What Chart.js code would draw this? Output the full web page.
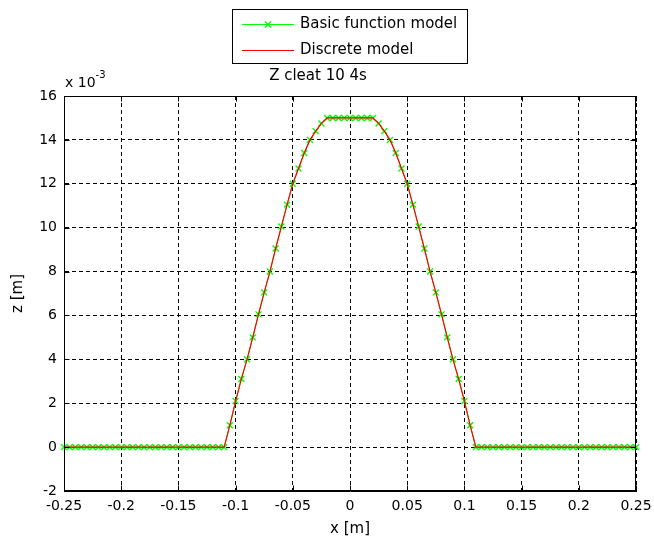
<!DOCTYPE html>
<html>
<head>
<meta charset="utf-8">
<script src="https://cdn.jsdelivr.net/npm/chart.js@4/dist/chart.umd.min.js"></script>
<style>
  html, body { margin: 0; padding: 0; background: #fff; }
  #wrap { width: 654px; height: 541px; }
</style>
</head>
<body>
<div id="wrap"><canvas id="cleatChart" width="654" height="541"></canvas></div>
<script>
// Profile data: x in metres, z in units of 10^-3 m
const xVals = [
  -0.25, -0.245, -0.24, -0.235, -0.23, -0.225, -0.22, -0.215, -0.21, -0.205,
  -0.2, -0.195, -0.19, -0.185, -0.18, -0.175, -0.17, -0.165, -0.16, -0.155,
  -0.15, -0.145, -0.14, -0.135, -0.13, -0.125, -0.12, -0.115, -0.11, -0.105,
  -0.1, -0.095, -0.09, -0.085, -0.08, -0.075, -0.07, -0.065, -0.06, -0.055,
  -0.05, -0.045, -0.04, -0.035, -0.03, -0.025, -0.02, -0.015, -0.01, -0.005,
  0,
  0.005, 0.01, 0.015, 0.02, 0.025, 0.03, 0.035, 0.04, 0.045, 0.05,
  0.055, 0.06, 0.065, 0.07, 0.075, 0.08, 0.085, 0.09, 0.095, 0.1,
  0.105, 0.11, 0.115, 0.12, 0.125, 0.13, 0.135, 0.14, 0.145, 0.15,
  0.155, 0.16, 0.165, 0.17, 0.175, 0.18, 0.185, 0.19, 0.195, 0.2,
  0.205, 0.21, 0.215, 0.22, 0.225, 0.23, 0.235, 0.24, 0.245, 0.25
];

const zBasic = [
  0, 0, 0, 0, 0, 0, 0, 0, 0, 0,
  0, 0, 0, 0, 0, 0, 0, 0, 0, 0,
  0, 0, 0, 0, 0, 0, 0, 0, 0, 1.0,
  2.1, 3.1, 4.0, 5.0, 6.05, 7.05, 8.0, 9.05, 10.05, 11.05,
  12.0, 12.7, 13.4, 14.0, 14.4, 14.75, 15, 15, 15, 15,
  15,
  15, 15, 15, 15, 14.75, 14.4, 14.0, 13.4, 12.7, 12.0,
  11.05, 10.05, 9.05, 8.0, 7.05, 6.05, 5.0, 4.0, 3.1, 2.1,
  1.0, 0, 0, 0, 0, 0, 0, 0, 0, 0,
  0, 0, 0, 0, 0, 0, 0, 0, 0, 0,
  0, 0, 0, 0, 0, 0, 0, 0, 0, 0
];

const zDiscrete = [
  0, 0, 0, 0, 0, 0, 0, 0, 0, 0,
  0, 0, 0, 0, 0, 0, 0, 0, 0, 0,
  0, 0, 0, 0, 0, 0, 0, 0, 0, 1.0,
  2.1, 3.1, 4.0, 5.0, 6.05, 7.05, 8.0, 9.05, 10.05, 11.05,
  12.0, 12.7, 13.4, 14.0, 14.4, 14.75, 15, 15, 15, 15,
  15,
  15, 15, 15, 15, 14.75, 14.4, 14.0, 13.4, 12.7, 12.0,
  11.05, 10.05, 9.05, 8.0, 7.05, 6.05, 5.0, 4.0, 3.1, 2.1,
  1.0, 0, 0, 0, 0, 0, 0, 0, 0, 0,
  0, 0, 0, 0, 0, 0, 0, 0, 0, 0,
  0, 0, 0, 0, 0, 0, 0, 0, 0, 0
];

const seriesLabels = ["Basic function model", "Discrete model"];
const chartTitle = "Z cleat 10 4s";
const xTickLabels = [-0.25, -0.2, -0.15, -0.1, -0.05, 0, 0.05, 0.1, 0.15, 0.2, 0.25];
const yTickLabels = [-2, 0, 2, 4, 6, 8, 10, 12, 14, 16];

const FONT = "'DejaVu Sans', sans-serif";
const GREEN = "#00ff00";
const RED = "#ff0000";

// box, inward ticks, legend and exponent label, matlab style
const matlabAxes = {
    id: "matlabAxes",
    afterDraw(chart) {
        const ctx = chart.ctx;
        const area = chart.chartArea;
        const xs = chart.scales.x;
        const ys = chart.scales.y;
        ctx.save();
        ctx.strokeStyle = "#000";
        ctx.lineWidth = 1;
        ctx.setLineDash([]);
        const L = Math.round(area.left) + 0.5, R = Math.round(area.right) - 0.5;
        const T = Math.round(area.top) + 0.5, B = Math.round(area.bottom) - 0.5;
        ctx.strokeRect(L, T, R - L, B - T);

        ctx.beginPath();
        xTickLabels.forEach(v => {
            const px = Math.round(xs.getPixelForValue(v)) + 0.5;
            ctx.moveTo(px, B); ctx.lineTo(px, B - 5);
            ctx.moveTo(px, T); ctx.lineTo(px, T + 5);
        });
        yTickLabels.forEach(v => {
            const py = Math.round(ys.getPixelForValue(v)) + 0.5;
            ctx.moveTo(L, py); ctx.lineTo(L + 5, py);
            ctx.moveTo(R, py); ctx.lineTo(R - 5, py);
        });
        ctx.stroke();

        // exponent
        ctx.fillStyle = "#000";
        ctx.textBaseline = "alphabetic";
        ctx.textAlign = "left";
        ctx.font = "14px " + FONT;
        ctx.fillText("x 10", 65, 87);
        const w = ctx.measureText("x 10").width;
        ctx.font = "10px " + FONT;
        ctx.fillText("-3", 65 + w, 78);

        // legend box
        ctx.fillStyle = "#fff";
        ctx.fillRect(232.5, 9.5, 235, 54);
        ctx.strokeRect(232.5, 9.5, 235, 54);
        const rows = [24, 50];
        chart.data.datasets.forEach((ds, i) => {
            const y = rows[i] + 0.5;
            ctx.strokeStyle = ds.borderColor;
            ctx.lineWidth = 1;
            ctx.beginPath();
            ctx.moveTo(242, y); ctx.lineTo(294, y);
            ctx.stroke();
            if (ds.pointRadius > 0) {
                ctx.lineWidth = 1.3;
                ctx.beginPath();
                ctx.moveTo(265, y - 3); ctx.lineTo(271, y + 3);
                ctx.moveTo(265, y + 3); ctx.lineTo(271, y - 3);
                ctx.stroke();
            }
            ctx.fillStyle = "#000";
            ctx.font = "15px " + FONT;
            ctx.textBaseline = "middle";
            ctx.fillText(ds.label, 300, rows[i]);
        });
        ctx.restore();
    }
};

const ctx = document.getElementById("cleatChart").getContext("2d");
new Chart(ctx, {
    type: "line",
    data: {
        datasets: [{
            label: seriesLabels[0],
            data: xVals.map((x, i) => ({ x: x, y: zBasic[i] })),
            borderColor: GREEN,
            borderWidth: 1,
            pointStyle: "crossRot",
            pointRadius: 4.2,
            pointBorderColor: GREEN,
            pointBorderWidth: 1.4,
            tension: 0,
            clip: false,
            order: 2
        }, {
            label: seriesLabels[1],
            data: xVals.map((x, i) => ({ x: x, y: zDiscrete[i] })),
            borderColor: RED,
            borderWidth: 1.2,
            pointRadius: 0,
            tension: 0,
            clip: false,
            order: 1
        }]
    },
    options: {
        responsive: false,
        animation: false,
        layout: { padding: { left: 0, right: 18, top: 4, bottom: 0 } },
        plugins: {
            legend: { display: false },
            tooltip: { enabled: false },
            title: {
                display: true,
                text: chartTitle,
                color: "#000",
                font: { family: FONT, size: 15, weight: "normal" },
                padding: { top: 63, bottom: 11 }
            }
        },
        scales: {
            x: {
                type: "linear",
                min: -0.25,
                max: 0.25,
                afterFit(scale) {
                    scale.height = 50;
                    scale.paddingLeft = 0;
                    scale.paddingRight = 0;
                },
                afterBuildTicks(scale) { scale.ticks = xTickLabels.map(v => ({ value: v })); },
                ticks: {
                    color: "#000",
                    font: { family: FONT, size: 14 },
                    padding: 7,
                    maxRotation: 0,
                    callback: v => String(parseFloat(v.toFixed(2)))
                },
                grid: { color: "#000", lineWidth: 1, drawTicks: false },
                border: { display: true, color: "#000", dash: [4, 3] },
                title: {
                    display: true,
                    text: "x [m]",
                    color: "#000",
                    font: { family: FONT, size: 15 },
                    padding: { top: 0, bottom: 3 }
                }
            },
            y: {
                min: -2,
                max: 16,
                afterFit(scale) {
                    scale.width = 64;
                    scale.paddingTop = 0;
                    scale.paddingBottom = 0;
                },
                afterBuildTicks(scale) { scale.ticks = yTickLabels.map(v => ({ value: v })); },
                ticks: {
                    color: "#000",
                    font: { family: FONT, size: 14 },
                    padding: 7,
                    callback: v => String(v)
                },
                grid: { color: "#000", lineWidth: 1, drawTicks: false },
                border: { display: true, color: "#000", dash: [4, 3] },
                title: {
                    display: true,
                    text: "z [m]",
                    color: "#000",
                    font: { family: FONT, size: 15 },
                    padding: { top: 9, bottom: 0 }
                }
            }
        }
    },
    plugins: [matlabAxes]
});
</script>
</body>
</html>
